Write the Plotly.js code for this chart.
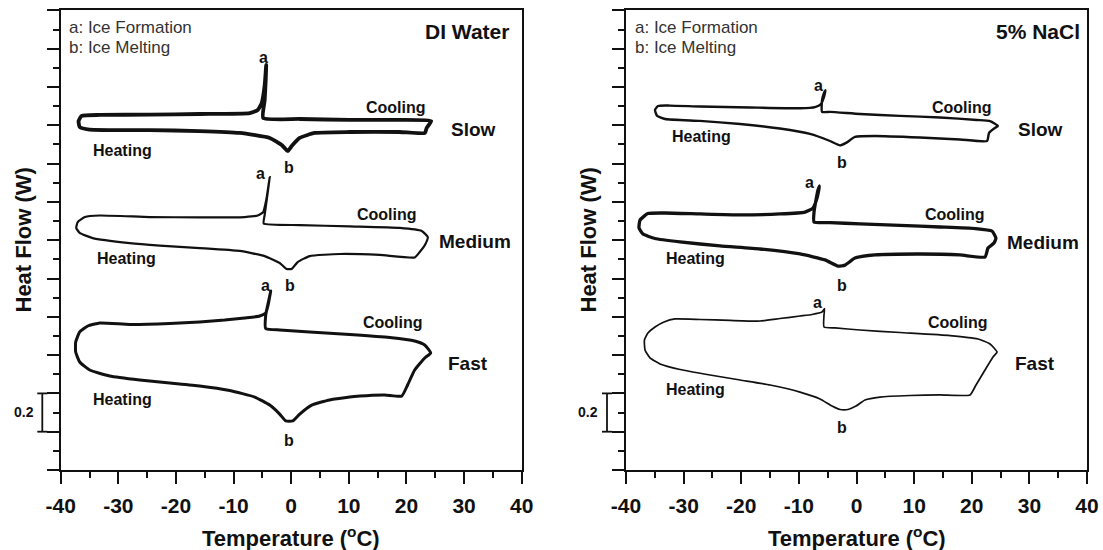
<!DOCTYPE html>
<html><head><meta charset="utf-8">
<script src="https://cdn.plot.ly/plotly-3.0.1.min.js"></script>
<style>html,body{margin:0;padding:0;background:#fff}#chart{width:1103px;height:550px}</style>
</head><body><div id="chart"></div>
<script>
// ---- DI Water (left panel) : temperature (°C) and heat flow (W, arbitrary offset) ----
const diSlowT = [24.3, 18.8, 10.15, 1.47, -4.86, -4.6, -4.42, -4.34, -4.6, -5.12, -5.81, -7.2, -15.9, -24.55, -33.2, -36.36, -36.9, -36.7, -35.0, -24.55, -15.9, -8.94, -3.73, -1.65, -0.6, 0.09, 1.47, 4.08, 10.15, 18.8, 23.2, 23.5, 24.3];
const diSlowW = [1.822, 1.828, 1.828, 1.833, 1.838, 1.932, 2.037, 2.115, 2.01, 1.916, 1.88, 1.864, 1.859, 1.856, 1.854, 1.849, 1.822, 1.791, 1.778, 1.775, 1.770, 1.76, 1.734, 1.697, 1.666, 1.692, 1.734, 1.76, 1.765, 1.765, 1.76, 1.786, 1.822];

const diMedT = [23.7, 22.65, 18.83, 10.15, 1.48, -4.77, -4.6, -4.25, -3.9, -3.73, -4.33, -4.86, -5.81, -8.07, -15.9, -24.55, -33.2, -35.8, -37.05, -37.3, -36.7, -34.45, -28.03, -22.8, -15.88, -8.94, -4.6, -2.0, -0.79, 0.09, 1.13, 3.21, 8.42, 15.36, 21.43, 22.3, 23.3, 23.7];
const diMedW = [1.217, 1.248, 1.264, 1.272, 1.279, 1.287, 1.332, 1.41, 1.488, 1.530, 1.41, 1.347, 1.329, 1.321, 1.319, 1.321, 1.329, 1.321, 1.295, 1.264, 1.238, 1.211, 1.185, 1.172, 1.159, 1.144, 1.117, 1.081, 1.05, 1.05, 1.086, 1.117, 1.128, 1.123, 1.110, 1.138, 1.180, 1.217];

const diFastT = [24.2, 23.17, 21.43, 17.1, 10.15, 3.21, -1.99, -4.42, -4.42, -4.07, -3.73, -3.56, -4.0, -4.42, -5.47, -8.07, -11.54, -15.88, -21.08, -28.03, -33.2, -35.3, -36.7, -37.4, -37.4, -36.7, -34.97, -31.5, -26.3, -21.08, -15.88, -10.67, -6.33, -3.73, -2.0, -0.95, 0.26, 1.48, 3.56, 6.68, 11.89, 16.23, 19.18, 20.2, 21.43, 23.17, 24.2];
const diFastW = [0.611, 0.653, 0.674, 0.692, 0.708, 0.721, 0.731, 0.739, 0.809, 0.862, 0.909, 0.935, 0.862, 0.82, 0.804, 0.794, 0.783, 0.773, 0.765, 0.760, 0.768, 0.752, 0.721, 0.668, 0.616, 0.564, 0.522, 0.491, 0.470, 0.454, 0.439, 0.415, 0.381, 0.339, 0.292, 0.256, 0.256, 0.292, 0.339, 0.366, 0.386, 0.392, 0.386, 0.444, 0.522, 0.585, 0.611];

// ---- 5% NaCl (right panel) ----
const naSlowT = [24.55, 23.17, 20.9, 14.5, 7.55, 0.61, -4.6, -5.98, -5.98, -5.64, -5.38, -5.64, -6.16, -7.2, -9.8, -18.48, -27.2, -32.4, -34.45, -34.97, -34.6, -33.2, -27.2, -20.2, -13.3, -8.07, -4.6, -2.86, -1.82, -0.26, 3.21, 11.0, 17.96, 22.65, 23.0, 24.0, 24.55];
const naSlowW = [1.796, 1.822, 1.828, 1.841, 1.849, 1.859, 1.870, 1.870, 1.932, 1.969, 1.984, 1.948, 1.911, 1.895, 1.889, 1.893, 1.898, 1.903, 1.901, 1.880, 1.849, 1.833, 1.823, 1.807, 1.783, 1.755, 1.718, 1.695, 1.708, 1.739, 1.744, 1.736, 1.726, 1.718, 1.760, 1.786, 1.796];

const naMedT = [24.2, 23.5, 20.57, 14.5, 7.55, 0.61, -4.6, -7.37, -7.37, -7.03, -6.68, -6.42, -6.85, -7.55, -8.94, -13.28, -20.2, -27.16, -33.23, -36.2, -37.57, -37.74, -37.05, -34.97, -30.63, -23.69, -16.75, -9.8, -5.47, -3.21, -2.0, -0.26, 3.21, 11.0, 17.96, 22.3, 22.82, 23.86, 24.2];
const naMedW = [1.211, 1.248, 1.261, 1.269, 1.277, 1.285, 1.292, 1.295, 1.347, 1.410, 1.462, 1.483, 1.420, 1.368, 1.347, 1.337, 1.332, 1.337, 1.342, 1.339, 1.305, 1.264, 1.232, 1.209, 1.191, 1.170, 1.154, 1.128, 1.097, 1.065, 1.070, 1.107, 1.123, 1.128, 1.123, 1.112, 1.159, 1.185, 1.211];

const naFastT = [24.4, 23.17, 21.08, 16.23, 7.55, 0.61, -3.73, -5.64, -5.64, -5.55, -5.99, -7.72, -9.8, -13.28, -16.75, -21.95, -27.16, -31.5, -33.4, -34.97, -36.2, -36.8, -36.7, -35.84, -34.1, -30.63, -25.42, -20.2, -15.0, -9.8, -6.33, -4.25, -2.86, -1.47, -0.09, 1.48, 4.08, 9.28, 14.5, 19.7, 20.74, 22.3, 23.69, 24.4];
const naFastW = [0.616, 0.658, 0.684, 0.702, 0.718, 0.731, 0.742, 0.747, 0.809, 0.843, 0.825, 0.812, 0.804, 0.791, 0.778, 0.781, 0.786, 0.789, 0.773, 0.747, 0.715, 0.679, 0.627, 0.585, 0.554, 0.525, 0.496, 0.47, 0.444, 0.407, 0.371, 0.334, 0.316, 0.316, 0.334, 0.366, 0.381, 0.389, 0.392, 0.392, 0.444, 0.522, 0.590, 0.616];

// ---- text ----
const xTicks = [-40, -30, -20, -10, 0, 10, 20, 30, 40];
const xTickLabels = ['-40', '-30', '-20', '-10', '0', '10', '20', '30', '40'];
const panelNames = ['DI Water', '5% NaCl'];
const rateNames = ['Slow', 'Medium', 'Fast'];
const legendLines = ['a: Ice Formation', 'b: Ice Melting'];

// ---------------------------------------------------------
const W = 1103, H = 550;
const FONT = 'Liberation Sans, Arial, Helvetica, sans-serif';
const INK = '#111';

function loop(t, w, ax, width) {
  return {
    x: t, y: w, xaxis: ax[0], yaxis: ax[1], type: 'scatter', mode: 'lines',
    line: {color: INK, width: width, shape: 'spline', smoothing: 0.45}, showlegend: false, hoverinfo: 'skip'
  };
}
const L = ['x', 'y'], R = ['x2', 'y2'];
const data = [
  loop(diSlowT, diSlowW, L, 3.8),
  loop(diMedT, diMedW, L, 2.2),
  loop(diFastT, diFastW, L, 3.0),
  loop(naSlowT, naSlowW, R, 2.4),
  loop(naMedT, naMedW, R, 3.3),
  loop(naFastT, naFastW, R, 1.7)
];

function xAxis(domain, anchor) {
  return {
    domain: domain, anchor: anchor, range: [-40, 40], tickmode: 'array', tickvals: xTicks, ticktext: xTickLabels,
    ticks: 'outside', ticklen: 12, tickwidth: 2, tickcolor: INK,
    showline: true, linewidth: 2, linecolor: INK, mirror: true,
    showgrid: false, zeroline: false,
    minor: {dtick: 5, tick0: 0, ticks: 'outside', ticklen: 6, tickwidth: 2, tickcolor: INK, showgrid: false},
    tickfont: {family: FONT, size: 21, color: INK, weight: 'bold'},
    ticklabelstandoff: 4, fixedrange: true
  };
}
function yAxis(domain, anchor) {
  return {
    domain: domain, anchor: anchor, range: [0, 2.4], dtick: 0.2, tick0: 0,
    ticks: 'outside', ticklen: 12, tickwidth: 2, tickcolor: INK,
    showline: true, linewidth: 2, linecolor: INK, mirror: true,
    showgrid: false, zeroline: false, showticklabels: false,
    minor: {dtick: 0.1, tick0: 0, ticks: 'outside', ticklen: 6, tickwidth: 2, tickcolor: INK, showgrid: false},
    fixedrange: true
  };
}

const yDom = [(H - 470) / H, (H - 10.4) / H];
const xDomL = [60.7 / W, 521.7 / W];
const xDomR = [626 / W, 1087 / W];

function A(text, px, py, size, opts) {
  return Object.assign({
    xref: 'paper', yref: 'paper', x: px / W, y: 1 - py / H, text: text,
    showarrow: false, xanchor: 'center', yanchor: 'middle',
    font: {family: FONT, size: size, color: INK}
  }, opts || {});
}
const b = s => '<b>' + s + '</b>';

const ann = [];
const panels = [
  {name: panelNames[0], nameX: 511, scaleX: 42.3, scaleTextX: 36, yTitleX: 23.5, xTitleX: 291, legX: 67,
   labels: {slow: [473, 130], med: [475, 241.5], fast: [467.5, 363.5],
     cool: [[396, 107], [387, 215], [393, 322]], heat: [[122.5, 150], [126.5, 258], [122.5, 399]],
     a: [[263, 57], [260.5, 173], [265.7, 285]], b: [[288.5, 167], [290, 285], [288.8, 440]]}},
  {name: panelNames[1], nameX: 1082, scaleX: 607, scaleTextX: 600, yTitleX: 588.5, xTitleX: 856.5, legX: 633,
   labels: {slow: [1040, 130], med: [1042.5, 242.5], fast: [1035, 363],
     cool: [[961.5, 108], [955, 215], [958, 322]], heat: [[701, 137], [695.5, 258], [695, 389]],
     a: [[818.7, 85], [809, 182], [817.6, 302]], b: [[842, 162], [842, 285.5], [842, 427]]}}
];
const shapes = [];
panels.forEach((p, i) => {
  ann.push(A(legendLines[0], p.legX, 28, 17, {xanchor: 'left', font: {family: FONT, size: 17, color: '#333'}}));
  ann.push(A(legendLines[1], p.legX, 47, 17, {xanchor: 'left', font: {family: FONT, size: 17, color: '#333'}}));
  ann.push(A(b(p.name), p.nameX, 31, 21, {xanchor: 'right'}));
  ann.push(A(b(rateNames[0]), p.labels.slow[0], p.labels.slow[1], 19));
  ann.push(A(b(rateNames[1]), p.labels.med[0], p.labels.med[1], 19));
  ann.push(A(b(rateNames[2]), p.labels.fast[0], p.labels.fast[1], 19));
  p.labels.cool.forEach(c => ann.push(A(b('Cooling'), c[0], c[1], 16)));
  p.labels.heat.forEach(c => ann.push(A(b('Heating'), c[0], c[1], 16)));
  p.labels.a.forEach(c => ann.push(A(b('a'), c[0], c[1], 16)));
  p.labels.b.forEach(c => ann.push(A(b('b'), c[0], c[1], 16)));
  ann.push(A(b('Heat Flow (W)'), p.yTitleX, 240, 22, {textangle: -90}));
  ann.push(A(b('Temperature (<sup>o</sup>C)'), p.xTitleX, 537, 22));
  ann.push(A(b('0.2'), p.scaleTextX, 412, 14, {xanchor: 'right'}));
  const yr = i === 0 ? 'y' : 'y2';
  const sx = p.scaleX / W, c0 = (p.scaleX - 5) / W, c1 = (p.scaleX + 5) / W;
  const ln = {color: INK, width: 1.8};
  shapes.push({type: 'line', xref: 'paper', yref: yr, x0: sx, x1: sx, y0: 0.2, y1: 0.4, line: ln});
  shapes.push({type: 'line', xref: 'paper', yref: yr, x0: c0, x1: c1, y0: 0.2, y1: 0.2, line: ln});
  shapes.push({type: 'line', xref: 'paper', yref: yr, x0: c0, x1: c1, y0: 0.4, y1: 0.4, line: ln});
});

const layout = {
  width: W, height: H, autosize: false,
  margin: {l: 0, r: 0, t: 0, b: 0, pad: 0},
  paper_bgcolor: '#fff', plot_bgcolor: '#fff',
  font: {family: FONT, color: INK},
  xaxis: xAxis(xDomL, 'y'), yaxis: yAxis(yDom, 'x'),
  xaxis2: xAxis(xDomR, 'y2'), yaxis2: yAxis(yDom, 'x2'),
  annotations: ann, shapes: shapes, showlegend: false
};

Plotly.newPlot('chart', data, layout, {staticPlot: true, displayModeBar: false});
</script>
</body></html>
